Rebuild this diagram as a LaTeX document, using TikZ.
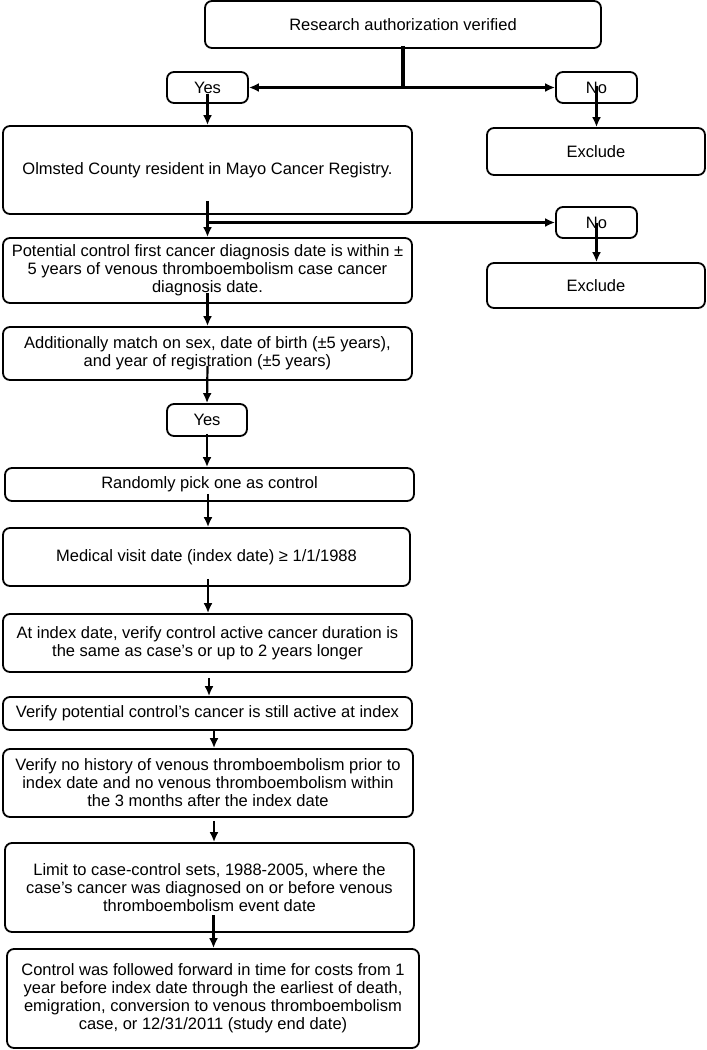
\documentclass[tikz,border=0pt]{standalone}
\usepackage{fontspec}
\setmainfont{Liberation Sans}
\usetikzlibrary{arrows.meta}
\begin{document}
\begin{tikzpicture}[x=1pt,y=-1pt,
  box/.style={draw, line width=1.8pt, rounded corners=7pt, align=center, inner sep=0pt,
    font=\fontsize{16.5}{18}\selectfont},
  arr/.style={line width=2.2pt, -{Latex[length=10pt,width=9pt]}},
  ln/.style={line width=2.2pt}]
\useasboundingbox (0,0) rectangle (707,1050);

\node[box, minimum width=396pt, minimum height=47pt] (top) at (403,24.5) {Research authorization verified};
\node[box, minimum width=81pt, minimum height=31pt] (yes1) at (207.5,87.5) {Yes};
\node[box, minimum width=81pt, minimum height=31pt] (no1) at (596.5,87.5) {No};
\node[box, minimum width=218pt, minimum height=47pt] (excl1) at (596,151.5) {Exclude};
\node[box, minimum width=409pt, minimum height=88pt] (olm) at (207.5,170) {Olmsted County resident in Mayo Cancer Registry.};
\node[box, minimum width=81pt, minimum height=31pt] (no2) at (596.5,222.5) {No};
\node[box, minimum width=218pt, minimum height=45pt] (excl2) at (596,285.5) {Exclude};
\node[box, minimum width=409pt, minimum height=65pt] (pot) at (207.5,270.5) {Potential control first cancer diagnosis date is within ±\\5 years of venous thromboembolism case cancer\\diagnosis date.};
\node[box, minimum width=409pt, minimum height=53pt] (add) at (207.5,353.5) {Additionally match on sex, date of birth (±5 years),\\and year of registration (±5 years)};
\node[box, minimum width=80pt, minimum height=32pt] (yes2) at (207,420) {Yes};
\node[box, minimum width=409pt, minimum height=33pt] (rand) at (209.5,484.5) {Randomly pick one as control};
\node[box, minimum width=407pt, minimum height=58pt] (med) at (206.5,557) {Medical visit date (index date) ≥ 1/1/1988};
\node[box, minimum width=409pt, minimum height=58pt] (atidx) at (207.5,643) {At index date, verify control active cancer duration is\\the same as case’s or up to 2 years longer};
\node[box, minimum width=409pt, minimum height=33pt] (verpot) at (207.5,713.5) {Verify potential control’s cancer is still active at index};
\node[box, minimum width=410pt, minimum height=68pt] (vernh) at (208,783) {Verify no history of venous thromboembolism prior to\\index date and no venous thromboembolism within\\the 3 months after the index date};
\node[box, minimum width=409pt, minimum height=89pt] (limit) at (209.5,887.5) {Limit to case-control sets, 1988-2005, where the\\case’s cancer was diagnosed on or before venous\\thromboembolism event date};
\node[box, minimum width=412pt, minimum height=99pt] (ctrl) at (213,998.5) {Control was followed forward in time for costs from 1\\year before index date through the earliest of death,\\emigration, conversion to venous thromboembolism\\case, or 12/31/2011 (study end date)};

% top split
\coordinate (j1) at (top.south |- yes1.east);
\draw[ln, line width=3.2pt] ([yshift=3pt]top.south) -- (j1);
\draw[arr] (j1) -- (yes1.east);
\draw[arr] (j1) -- (no1.west);
\draw[arr] ([yshift=-6pt]yes1.center) -- (olm.north);
\draw[arr] ([yshift=2pt]no1.center) -- (no1.center |- excl1.north);

% olmsted split
\coordinate (j2) at (olm.south |- no2.west);
\draw[arr] ([yshift=14pt]olm.south) -- (pot.north);
\draw[arr] (j2) -- (no2.west);
\draw[arr] (no2.center) -- (no2.center |- excl2.north);

% main chain
\draw[arr] ([yshift=11pt]pot.south) -- (add.north);
\draw[arr] ([yshift=15pt]add.south) -- (yes2.north);
\draw[arr] ([yshift=3pt]yes2.south) -- (yes2.south |- rand.north);
\coordinate (c1) at ([xshift=-1.5pt,yshift=8pt]rand.south);
\draw[arr] (c1) -- (c1 |- med.north);
\coordinate (c2) at ([xshift=1.5pt,yshift=8pt]med.south);
\draw[arr] (c2) -- (c2 |- atidx.north);
\coordinate (c3) at ([xshift=1.5pt,yshift=-5pt]atidx.south);
\draw[arr] (c3) -- (c3 |- verpot.north);
\coordinate (c4) at ([xshift=6.5pt]verpot.south);
\draw[arr] (c4) -- (c4 |- vernh.north);
\coordinate (c5) at ([xshift=6pt,yshift=-3pt]vernh.south);
\draw[arr] (c5) -- (c5 |- limit.north);
\coordinate (c6) at ([xshift=4pt,yshift=18pt]limit.south);
\draw[arr] (c6) -- (c6 |- ctrl.north);
\end{tikzpicture}
\end{document}
